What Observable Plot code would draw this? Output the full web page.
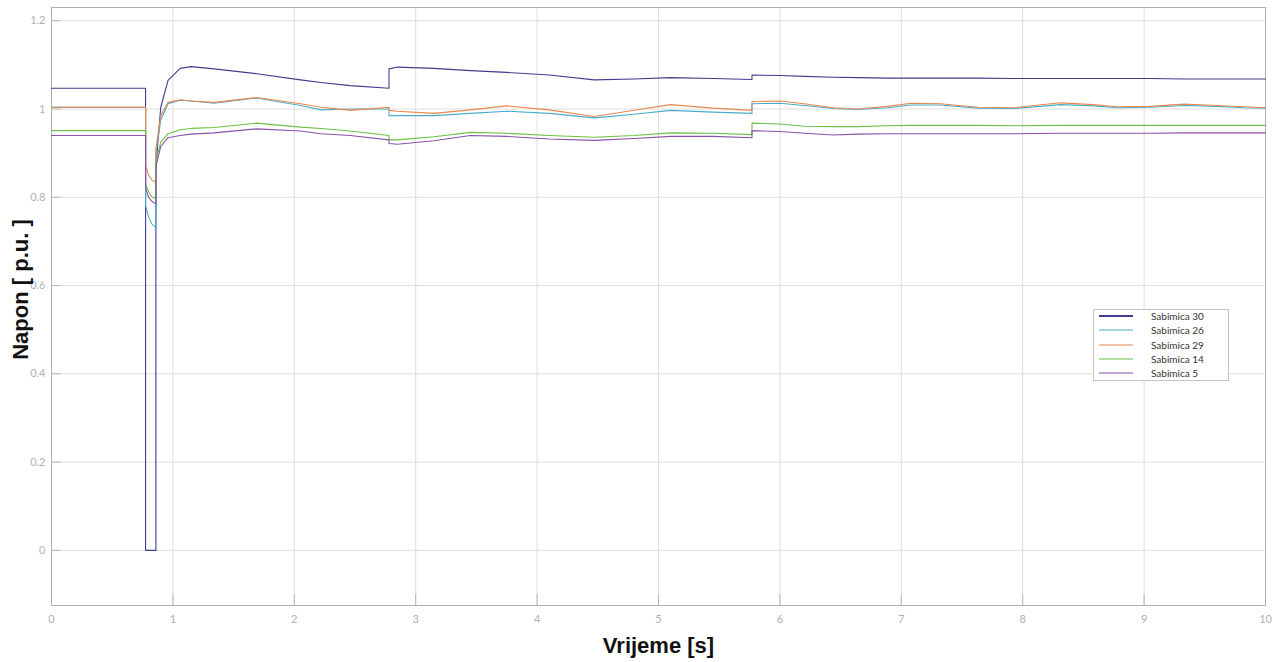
<!DOCTYPE html>
<html>
<head>
<meta charset="utf-8">
<script src="https://cdn.jsdelivr.net/npm/d3@7"></script>
<script src="https://cdn.jsdelivr.net/npm/@observablehq/plot@0.6"></script>
<style>
  html, body { margin: 0; padding: 0; background: #fff; }
  #wrap { position: relative; width: 1281px; height: 662px; }
  #legend { position: absolute; left: 1093px; top: 309px; width: 134px; height: 70px;
    border: 1px solid #c4c4c4; background: #fff; font-family: Lato, "Open Sans", sans-serif;
    font-size: 10px; color: #333; }
  .row { position: absolute; left: 0; height: 14px; display: flex; align-items: center; }
  .row svg { margin-left: 5px; margin-right: 18px; }
</style>
</head>
<body>
<div id="wrap"></div>
<script>
// time axis [s] (repeated values mark step changes)
const time = [0, 0.775, 0.775, 0.80, 0.83, 0.86, 0.86, 0.90, 0.96, 1.06, 1.15, 1.34, 1.69, 2.05, 2.22, 2.46, 2.78, 2.78, 2.85, 3.15, 3.45, 3.75, 4.1, 4.47, 4.8, 5.1, 5.45, 5.77, 5.77, 6.0, 6.2, 6.44, 6.64, 6.89, 7.08, 7.32, 7.63, 7.93, 8.31, 8.58, 8.78, 9.05, 9.33, 9.6, 9.82, 10];

const bus30 = [1.047, 1.047, 0, 0, 0, 0, 0.87, 1.004, 1.065, 1.092, 1.096, 1.091, 1.080, 1.066, 1.060, 1.053, 1.047, 1.091, 1.095, 1.092, 1.087, 1.083, 1.077, 1.066, 1.068, 1.071, 1.069, 1.067, 1.077, 1.076, 1.074, 1.072, 1.071, 1.070, 1.070, 1.070, 1.070, 1.069, 1.069, 1.069, 1.069, 1.069, 1.068, 1.068, 1.068, 1.068];
const bus26 = [1.004, 1.004, 0.781, 0.755, 0.738, 0.732, 0.90, 0.975, 1.012, 1.020, 1.018, 1.013, 1.025, 1.008, 0.998, 1.000, 1.000, 0.985, 0.985, 0.985, 0.990, 0.995, 0.990, 0.980, 0.988, 0.997, 0.993, 0.990, 1.012, 1.013, 1.008, 1.001, 0.999, 1.003, 1.009, 1.009, 1.002, 1.001, 1.010, 1.007, 1.003, 1.004, 1.008, 1.006, 1.003, 1.002];
const bus29 = [1.004, 1.004, 0.872, 0.850, 0.838, 0.834, 0.91, 0.985, 1.015, 1.021, 1.018, 1.015, 1.026, 1.012, 1.004, 0.997, 1.004, 0.997, 0.995, 0.990, 0.998, 1.007, 0.998, 0.983, 0.997, 1.010, 1.002, 0.997, 1.017, 1.018, 1.012, 1.003, 1.000, 1.006, 1.013, 1.012, 1.004, 1.003, 1.014, 1.010, 1.005, 1.006, 1.011, 1.008, 1.005, 1.003];
const bus14 = [0.951, 0.951, 0.831, 0.812, 0.800, 0.797, 0.88, 0.925, 0.944, 0.953, 0.956, 0.958, 0.968, 0.959, 0.956, 0.950, 0.940, 0.930, 0.930, 0.937, 0.947, 0.945, 0.940, 0.936, 0.940, 0.946, 0.945, 0.942, 0.968, 0.966, 0.961, 0.960, 0.960, 0.962, 0.963, 0.963, 0.963, 0.962, 0.963, 0.963, 0.963, 0.963, 0.963, 0.963, 0.963, 0.963];
const bus5 = [0.940, 0.940, 0.820, 0.800, 0.790, 0.785, 0.87, 0.915, 0.935, 0.940, 0.943, 0.946, 0.955, 0.950, 0.944, 0.940, 0.930, 0.922, 0.920, 0.928, 0.940, 0.938, 0.932, 0.929, 0.933, 0.938, 0.938, 0.935, 0.951, 0.949, 0.945, 0.941, 0.943, 0.944, 0.944, 0.944, 0.944, 0.944, 0.945, 0.945, 0.945, 0.945, 0.946, 0.946, 0.946, 0.946];

const seriesNames = ["Sabimica 30", "Sabimica 26", "Sabimica 29", "Sabimica 14", "Sabimica 5"];
const seriesValues = [bus30, bus26, bus29, bus14, bus5];
const seriesColors = ["#3e3e8e", "#4aaccc", "#e8884e", "#6cc043", "#8a52a8"];

const xTicks = [0, 1, 2, 3, 4, 5, 6, 7, 8, 9, 10];
const yTicks = [0, 0.2, 0.4, 0.6, 0.8, 1, 1.2];

const rows = [];
seriesNames.forEach((name, i) => {
  time.forEach((t, j) => rows.push({t, v: seriesValues[i][j], s: name}));
});

const chart = Plot.plot({
  width: 1281,
  height: 662,
  marginLeft: 51,
  marginRight: 16,
  marginTop: 7,
  marginBottom: 57,
  x: {domain: [0, 10]},
  y: {domain: [-0.125, 1.23]},
  color: {domain: seriesNames, range: seriesColors},
  style: {background: "#fff", fontFamily: "Lato, 'Open Sans', sans-serif"},
  marks: [
    Plot.gridX(xTicks, {stroke: "#dedede", strokeOpacity: 1}),
    Plot.gridY(yTicks, {stroke: "#dedede", strokeOpacity: 1}),
    Plot.ruleY(yTicks, {x1: 0, x2: 0.08, stroke: "#b8b8b8"}),
    Plot.ruleX(xTicks, {y1: -0.125, y2: -0.1, stroke: "#b8b8b8"}),
    Plot.frame({stroke: "#b0b0b0"}),
    Plot.axisX(xTicks, {tickSize: 0, tickPadding: 10, fill: "#b0b0b0", fontSize: 11, label: null, tickFormat: d3.format("~g")}),
    Plot.axisY(yTicks, {tickSize: 0, tickPadding: 6, fill: "#b0b0b0", fontSize: 11, label: null, tickFormat: d3.format("~g")}),
    Plot.line(rows, {x: "t", y: "v", z: "s", stroke: "s", strokeWidth: 1.1}),
    Plot.text(["Vrijeme [s]"], {frameAnchor: "bottom", dy: 40, lineAnchor: "middle", textAnchor: "middle",
      fontSize: 22, fontWeight: "bold", fill: "#111",
      fontFamily: "'Liberation Sans Narrow', 'Arial Narrow', sans-serif"}),
    Plot.text(["Napon [ p.u. ]"], {frameAnchor: "left", dx: -31, dy: -17, rotate: -90, lineAnchor: "middle", textAnchor: "middle",
      fontSize: 22, fontWeight: "bold", fill: "#111",
      fontFamily: "'Liberation Sans Narrow', 'Arial Narrow', sans-serif"})
  ]
});

const wrap = document.getElementById("wrap");
wrap.appendChild(chart);

const legend = document.createElement("div");
legend.id = "legend";
seriesNames.forEach((name, i) => {
  const row = document.createElement("div");
  row.className = "row";
  row.style.top = (-1 + i * 14.3) + "px";
  row.innerHTML = `<svg width="34" height="4"><line x1="0" y1="2" x2="34" y2="2" stroke="${seriesColors[i]}" stroke-width="${i === 0 ? 2 : 1.2}"/></svg><span>${name}</span>`;
  legend.appendChild(row);
});
wrap.appendChild(legend);
</script>
</body>
</html>
